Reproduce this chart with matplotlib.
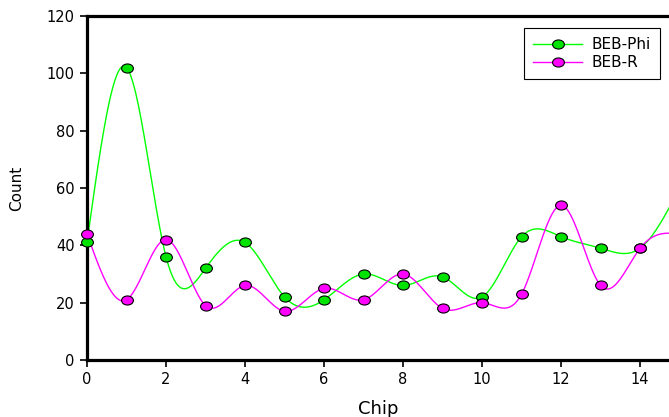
import numpy as np
import matplotlib.pyplot as plt
from matplotlib.path import Path
from matplotlib.transforms import Affine2D

plt.rcParams['font.family'] = ['DejaVu Sans']

chips = [0, 1, 2, 3, 4, 5, 6, 7, 8, 9, 10, 11, 12, 13, 14, 15]
beb_phi = [41, 102, 36, 32, 41, 22, 21, 30, 26, 29, 22, 43, 43, 39, 39, 60]
beb_r = [44, 21, 42, 19, 26, 17, 25, 21, 30, 18, 20, 23, 54, 26, 39, 44]


def natural_spline(x, y, n=600):
    x = np.asarray(x, float)
    y = np.asarray(y, float)
    k = len(x)
    h = np.diff(x)
    A = np.zeros((k, k))
    b = np.zeros(k)
    A[0, 0] = A[-1, -1] = 1
    for i in range(1, k - 1):
        A[i, i - 1] = h[i - 1]
        A[i, i] = 2 * (h[i - 1] + h[i])
        A[i, i + 1] = h[i]
        b[i] = 6 * ((y[i + 1] - y[i]) / h[i] - (y[i] - y[i - 1]) / h[i - 1])
    m = np.linalg.solve(A, b)
    xs = np.linspace(x[0], x[-1], n)
    idx = np.clip(np.searchsorted(x, xs) - 1, 0, k - 2)
    t = xs - x[idx]
    hi = h[idx]
    ys = (m[idx] * (x[idx + 1] - xs) ** 3 / (6 * hi) + m[idx + 1] * t ** 3 / (6 * hi)
          + (y[idx] / hi - m[idx] * hi / 6) * (x[idx + 1] - xs)
          + (y[idx + 1] / hi - m[idx + 1] * hi / 6) * t)
    return xs, ys


ellipse = Path.unit_circle().transformed(Affine2D().scale(1.3, 1.0))

fig = plt.figure(figsize=(6.69, 4.17), dpi=100)
ax = fig.add_axes([87 / 669, 57 / 417, 582 / 669, 344 / 417])

series = [(beb_phi, '#00ff00', '#00e400', 'BEB-Phi'),
          (beb_r, '#ff00ff', '#ff00ff', 'BEB-R')]
for vals, lc, fc, name in series:
    xs, ys = natural_spline(chips, vals)
    ax.plot(xs, ys, color=lc, lw=1.0, zorder=2)
    pts = [(c, v) for c, v in zip(chips, vals) if c <= 14]
    ax.plot([p[0] for p in pts], [p[1] for p in pts], ls='none', marker=ellipse,
            ms=8.5, mfc=fc, mec='black', mew=0.8, zorder=3, clip_on=False)
    ax.plot([], [], color=lc, lw=1.0, marker=ellipse, ms=8.5, mfc=fc,
            mec='black', mew=0.8, label=name)

ax.set_xlim(0, 14.73)
ax.set_ylim(0, 120)
ax.set_xticks(range(0, 15, 2))
ax.set_yticks(range(0, 121, 20))
for s in ['left', 'bottom', 'top']:
    ax.spines[s].set_linewidth(2.3)
ax.spines['right'].set_visible(False)
ax.tick_params(direction='out', length=5, width=1.2, labelsize=10.5, pad=4)

ax.set_xlabel('Chip', fontsize=13, labelpad=9)
ax.set_ylabel('Count', fontsize=11, labelpad=16)

leg = ax.legend(loc='upper right', bbox_to_anchor=(0.984, 0.965), fontsize=11,
                fancybox=False, edgecolor='black', framealpha=1,
                handlelength=3.2, borderpad=0.6, labelspacing=0.2,
                handletextpad=0.6, borderaxespad=0)
leg.get_frame().set_linewidth(0.8)

fig.savefig('out.png', dpi=100)
